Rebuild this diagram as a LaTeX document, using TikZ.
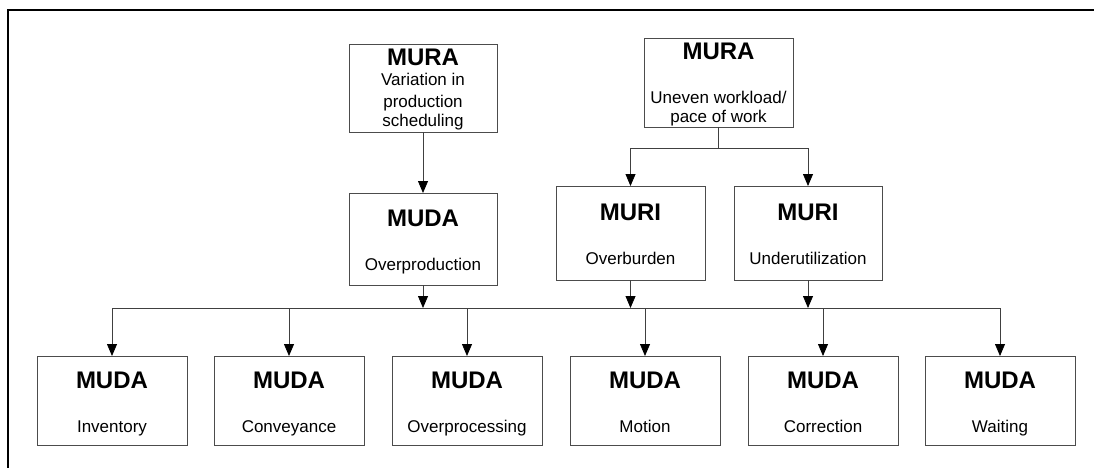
\documentclass[tikz,border=0pt]{standalone}
\usepackage{fontspec}
\setmainfont{Liberation Sans}
\usetikzlibrary{arrows.meta}
\tikzset{
  box/.style={draw=black!70, line width=0.8pt, rectangle, inner sep=0pt, outer sep=0pt, fill=white},
  ttl/.style={anchor=base, inner sep=0pt, font=\fontsize{24}{28}\selectfont\bfseries},
  sub/.style={anchor=base, inner sep=0pt, font=\fontsize{17}{20}\selectfont},
  conn/.style={draw=black!75, line width=0.8pt},
  arr/.style={conn, -{Triangle[width=10pt,length=12pt,color=black]}},
}
\begin{document}
\begin{tikzpicture}[x=1pt,y=-1pt]
\useasboundingbox (0,0) rectangle (1094,468);
\draw[line width=1.4pt] (8,468) -- (8,10) -- (1094,10);

% top row
\node[box, minimum width=148, minimum height=88] (mura1) at (423,88) {};
\node[ttl] (mura1t) at (423,66) {MURA};
\node[sub] (mura1a) at (423,86) {Variation in};
\node[sub] (mura1b) at (423,107) {production};
\node[sub] (mura1c) at (423,127) {scheduling};

\node[box, minimum width=149, minimum height=89] (mura2) at (718.5,82.5) {};
\node[ttl] (mura2t) at (718.5,60) {MURA};
\node[sub] (mura2a) at (718.5,103) {Uneven workload/};
\node[sub] (mura2b) at (718.5,122) {pace of work};

% middle row
\node[box, minimum width=148, minimum height=92] (overprod) at (423,239) {};
\node[ttl] (overprodt) at (423,226) {MUDA};
\node[sub] (overprods) at (423,270) {Overproduction};

\node[box, minimum width=149, minimum height=94] (muri1) at (630.5,233) {};
\node[ttl] (muri1t) at (630.5,220) {MURI};
\node[sub] (muri1s) at (630.5,264) {Overburden};

\node[box, minimum width=148, minimum height=94] (muri2) at (808,233) {};
\node[ttl] (muri2t) at (808,220) {MURI};
\node[sub] (muri2s) at (808,264) {Underutilization};

% bottom row
\foreach \n/\x/\s in {inv/112/Inventory, conv/289/Conveyance, proc/467/Overprocessing, mot/645/Motion, corr/823/Correction, wait/1000/Waiting}{
  \node[box, minimum width=150, minimum height=89] (\n) at (\x,400.5) {};
  \node[ttl] (\n t) at (\x,388) {MUDA};
  \node[sub] (\n s) at (\x,432) {\s};
}

% connectors
\draw[arr] (mura1.south) -- (overprod.north);
\coordinate (j2) at (718.5,148);
\draw[conn] (mura2.south) -- (j2);
\draw[arr] (j2) -| (muri1.north);
\draw[arr] (j2) -| (muri2.north);

\coordinate (busL) at (112,308);
\coordinate (busR) at (1000,308);
\draw[conn] (busL) -- (busR);
\draw[arr] (overprod.south) -- (overprod.south |- busL);
\draw[arr] (muri1.south) -- (muri1.south |- busL);
\draw[arr] (muri2.south) -- (muri2.south |- busL);
\foreach \n in {inv,conv,proc,mot,corr,wait}{
  \draw[arr] (\n.north |- busL) -- (\n.north);
}
\end{tikzpicture}
\end{document}
